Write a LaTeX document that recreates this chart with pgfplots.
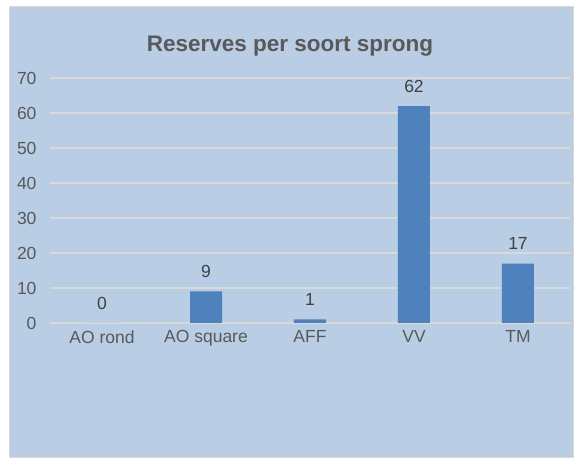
\documentclass[border=0pt]{standalone}
\usepackage{pgfplots}
\pgfplotsset{compat=1.18}
\usepackage{fontspec}
\setmainfont{Liberation Sans}
\definecolor{bgblue}{HTML}{B9CDE5}
\definecolor{barblue}{HTML}{4F81BD}
\definecolor{gridgray}{HTML}{D9D9D9}
\definecolor{txtgray}{HTML}{595959}
\begin{document}
\begin{tikzpicture}[x=1pt,y=1pt]
\fill[white] (0,0) rectangle (574,457);
\filldraw[fill=bgblue,draw=gridgray,line width=1pt] (9,-1) rectangle (573,450);
\node[font=\fontsize{22.5}{26}\selectfont\bfseries,text=txtgray] at (290,411) {Reserves per soort sprong};
\begin{axis}[
    at={(50pt,134pt)}, anchor=south west,
    scale only axis, width=520pt, height=245pt,
    ybar, bar width=32pt,
    xmin=-0.5, xmax=4.5, ymin=0, ymax=70,
    xtick=data, xticklabels={AO rond,AO square,AFF,VV,TM},
    ytick={0,10,...,70},
    axis line style={draw=none},
    major tick length=0pt,
    ymajorgrids, grid style={gridgray,line width=1.2pt},
    tick label style={font=\fontsize{17.5}{20}\selectfont,text=txtgray},
    /pgf/number format/assume math mode=true,
    yticklabel style={xshift=-10pt},
    xticklabel style={yshift=-4pt},
    nodes near coords,
    nodes near coords style={font=\fontsize{17.5}{20}\selectfont,text=black!75,yshift=10pt},
]
\addplot[fill=barblue,draw=none] coordinates {(0,0) (1,9) (2,1) (3,62) (4,17)};
\end{axis}
\end{tikzpicture}
\end{document}
